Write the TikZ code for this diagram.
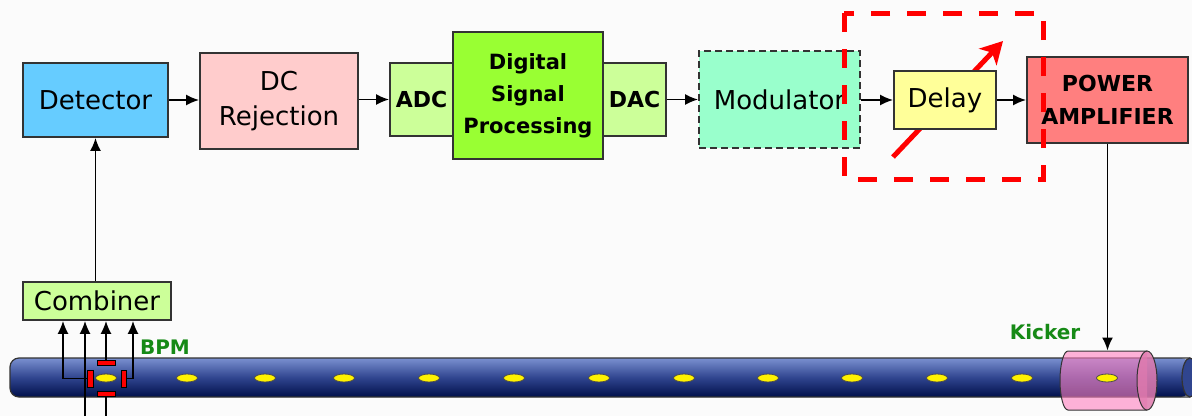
\documentclass[tikz,border=0pt]{standalone}
\usepackage{fontspec}
\setmainfont{DejaVu Sans}
\usetikzlibrary{arrows.meta,shapes.geometric}

\definecolor{bgc}{HTML}{FBFBFB}
\definecolor{edge}{HTML}{333333}
\definecolor{detc}{HTML}{66CCFF}
\definecolor{dcrc}{HTML}{FFCCCC}
\definecolor{convc}{HTML}{CCFF99}
\definecolor{dspc}{HTML}{99FF33}
\definecolor{modc}{HTML}{99FFCC}
\definecolor{dlyc}{HTML}{FFFF99}
\definecolor{pac}{HTML}{FF7F7F}
\definecolor{lblc}{HTML}{168A16}
\definecolor{pipetop}{HTML}{7A90D0}
\definecolor{pipemid}{HTML}{30458F}
\definecolor{pipebot}{HTML}{000F4A}
\definecolor{kickc}{HTML}{FF80C0}
\definecolor{kickend}{HTML}{E07AAE}

\tikzset{
  block/.style={draw=edge, line width=1.8pt, inner sep=0pt, align=center,
    font=\fontsize{26}{35}\selectfont},
  boldblock/.style={block, font=\fontsize{22}{33}\selectfont\bfseries},
  sig/.style={draw=black, line width=1.8pt, -{Latex[length=13pt,width=11pt]}},
  wire/.style={draw=black, line width=1.6pt},
  electrode/.style={draw=black, line width=0.8pt, fill=red, inner sep=0pt},
  bunch/.style={ellipse, draw=black!70, line width=0.8pt, fill=yellow,
    minimum width=21pt, minimum height=8pt, inner sep=0pt},
  tag/.style={text=lblc, font=\fontsize{20}{24}\selectfont\bfseries},
}

\begin{document}
\begin{tikzpicture}[x=1pt,y=-1pt]
\useasboundingbox (0,0) rectangle (1192,416);
\fill[bgc] (0,0) rectangle (1192,416);

% adjustable-delay arrow, passing behind the delay box
\coordinate (rs) at (893,157);
\coordinate (re) at (1003,41);
\draw[red, line width=5pt, -{Stealth[length=22pt,width=24pt,inset=6pt]}] (rs) -- (re);

% signal chain
\node[block, fill=detc, minimum width=145pt, minimum height=74pt] (det) at (95.5,100) {Detector};
\node[block, fill=dcrc, minimum width=158pt, minimum height=96pt] (dcr) at (279,101) {DC\\Rejection};
\node[boldblock, fill=convc, minimum width=63pt, minimum height=73pt] (adc) at (421.5,99.5) {ADC};
\node[boldblock, fill=dspc, minimum width=150pt, minimum height=127pt,
  font=\fontsize{21}{32}\selectfont\bfseries] (dsp) at (528,95.5) {Digital\\Signal\\Processing};
\node[boldblock, fill=convc, minimum width=63pt, minimum height=73pt] (dac) at (634.5,99.5) {DAC};
\node[block, fill=modc, dash pattern=on 7pt off 4pt, minimum width=161pt, minimum height=97pt] (mod) at (779.5,99.5) {Modulator};
\node[block, fill=dlyc, minimum width=102pt, minimum height=58pt] (dly) at (945,100) {Delay};
\node[boldblock, fill=pac, minimum width=161pt, minimum height=86pt] (pa) at (1107.5,100) {POWER\\AMPLIFIER};
\node[block, fill=convc, minimum width=148pt, minimum height=38pt] (comb) at (97,301) {Combiner};

\draw[sig] (det.east) -- (det.east -| dcr.west);
\draw[sig] (dcr.east |- adc.west) -- (adc.west);
\draw[sig] (dac.east) -- (dac.east -| mod.west);
\draw[sig] (mod.east |- dly.west) -- (dly.west);
\draw[sig] (dly.east) -- (dly.east -| pa.west);
\draw[sig] (comb.north -| det.south) -- (det.south);

% highlighted region around the delay
\draw[red, line width=5pt, dash pattern=on 19pt off 17pt] (844,13) rectangle (1043,179);

% beam pipe
\shade[top color=pipetop, bottom color=pipebot, middle color=pipemid, rounded corners=9pt]
  (1190,358) -- (10,358) -- (10,397) -- (1190,397) -- cycle;
\draw[edge, line width=1.2pt, rounded corners=9pt] (1190,358) -- (10,358) -- (10,397) -- (1190,397);
\draw[edge, line width=1.2pt, fill=pipemid] (1190,377.5) ellipse [x radius=8, y radius=19.5];

% bunches
\foreach \bx [count=\i] in {106,187,265,344,429,514,599,684,768,852,937,1022}
  \node[bunch] (b\i) at (\bx,378) {};

% BPM electrodes
\node[electrode, minimum width=18pt, minimum height=5pt] (etop) at (106,362.5) {};
\node[electrode, minimum width=18pt, minimum height=5pt] (ebot) at (106,394) {};
\node[electrode, minimum width=6pt, minimum height=17pt] (eleft) at (90,378.5) {};
\node[electrode, minimum width=5pt, minimum height=17pt] (eright) at (123.5,378.5) {};
\coordinate (wlow) at (85,416);
\coordinate (blow) at (106,416);

% pick-up wires to the combiner
\draw[wire] (eleft.west) -- (63,378.5) coordinate (w1);
\draw[sig, line width=1.6pt] (w1) -- (w1 |- comb.south);
\draw[sig, line width=1.6pt] (wlow) -- (wlow |- comb.south);
\draw[sig, line width=1.6pt] (etop.north) -- (etop.north |- comb.south);
\draw[wire] (eright.east) -- (133,378.5) coordinate (w4);
\draw[sig, line width=1.6pt] (w4) -- (w4 |- comb.south);
\draw[wire] (ebot.south) -- (blow);

% electrodes and bunch redrawn above the wires
\node[electrode, minimum width=18pt, minimum height=5pt] at (etop) {};
\node[electrode, minimum width=6pt, minimum height=17pt] at (eleft) {};
\node[electrode, minimum width=5pt, minimum height=17pt] at (eright) {};
\node[electrode, minimum width=18pt, minimum height=5pt] at (ebot) {};
\node[bunch] at (b1) {};

% kicker
\fill[kickc, opacity=0.6] (1147,351) -- (1068,351)
  arc[start angle=270, end angle=90, x radius=8, y radius=29.5] -- (1147,410) -- cycle;
\draw[edge, line width=1pt] (1147,351) -- (1068,351)
  arc[start angle=270, end angle=90, x radius=8, y radius=29.5] -- (1147,410);
\node[bunch] (b13) at (1107,378) {};
\node[draw=edge, line width=1pt, fill=kickend, fill opacity=0.85, ellipse,
  minimum width=20pt, minimum height=59pt, inner sep=0pt] (kick) at (1147,380.5) {};
\draw[sig] (pa.south) -- (pa.south |- kick.north);

% labels
\node[tag] (bpm) at (165,347) {BPM};
\node[tag] (kicker) at (1045,332) {Kicker};
\end{tikzpicture}
\end{document}
